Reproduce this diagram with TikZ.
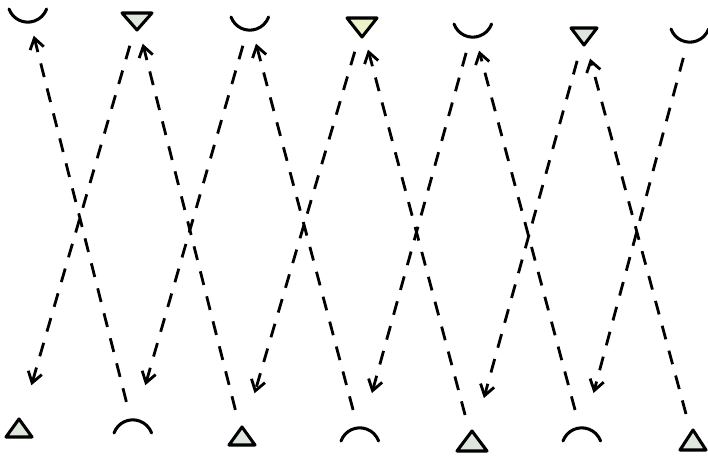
\documentclass[tikz,border=0pt]{standalone}
\usepackage{tikz}
\usetikzlibrary{arrows.meta}

\definecolor{riemp}{RGB}{222,230,222}
\definecolor{giallino}{RGB}{238,240,200}

\tikzset{
  simbolo/.style={line width=2.6pt, line cap=round, line join=round},
  triang/.style={simbolo, fill=riemp},
  freccia/.style={line width=2.4pt, dash pattern=on 12pt off 10pt,
    -{Straight Barb[length=9pt,width=12pt]}},
  giu/.style={freccia, shorten <=22pt, shorten >=38pt},
  su/.style={freccia, shorten <=23pt, shorten >=20pt},
}

\begin{document}
\begin{tikzpicture}[x=0.03cm, y=0.03cm]
  \useasboundingbox (0,-457) rectangle (708,0);

  % Simboli in alto
  \coordinate (t1) at (28,-13);
  \coordinate (t2) at (137,-21);
  \coordinate (t3) at (250,-21);
  \coordinate (t4) at (362,-27);
  \coordinate (t5) at (473,-28);
  \coordinate (t6) at (584,-36);
  \coordinate (t7) at (690,-33);

  % Simboli in basso
  \coordinate (b1) at (19,-428);
  \coordinate (b2) at (133,-428);
  \coordinate (b3) at (242,-436);
  \coordinate (b4) at (360,-436);
  \coordinate (b5) at (472,-441);
  \coordinate (b6) at (582,-436);
  \coordinate (b7) at (693,-440);

  % Coppe e triangoli rovesciati
  \draw[simbolo] (t1) ++(-19,4) arc[start angle=200, end angle=340, radius=20];
  \draw[triang] (t2) ++(-15,8) -- ++(30,0) -- ++(-15,-17) -- cycle;
  \draw[simbolo] (t3) ++(-19,4) arc[start angle=200, end angle=340, radius=20];
  \draw[triang, fill=giallino] (t4) ++(-15,9) -- ++(30,0) -- ++(-15,-19) -- cycle;
  \draw[simbolo] (t5) ++(-19,4) arc[start angle=200, end angle=340, radius=20];
  \draw[triang] (t6) ++(-13,8) -- ++(26,0) -- ++(-13,-17) -- cycle;
  \draw[simbolo] (t7) ++(-19,4) arc[start angle=200, end angle=340, radius=20];

  % Triangoli e archi sotto
  \draw[triang] (b1) ++(-13,-9) -- ++(26,0) -- ++(-13,18) -- cycle;
  \draw[simbolo] (b2) ++(-19,-5) arc[start angle=160, end angle=20, radius=20];
  \draw[triang] (b3) ++(-13,-9) -- ++(26,0) -- ++(-13,18) -- cycle;
  \draw[simbolo] (b4) ++(-19,-5) arc[start angle=160, end angle=20, radius=20];
  \draw[triang] (b5) ++(-15,-10) -- ++(30,0) -- ++(-15,20) -- cycle;
  \draw[simbolo] (b6) ++(-19,-5) arc[start angle=160, end angle=20, radius=20];
  \draw[triang] (b7) ++(-13,-10) -- ++(26,0) -- ++(-13,20) -- cycle;

  % Frecce tratteggiate
  \draw[giu] (t2) -- (b1);
  \draw[su]  (b2) -- (t1);
  \draw[su]  (b3) -- (t2);
  \draw[giu] (t3) -- (b2);
  \draw[su]  (b4) -- (t3);
  \draw[giu] (t4) -- (b3);
  \draw[su]  (b5) -- (t4);
  \draw[giu] (t5) -- (b4);
  \draw[su]  (b6) -- (t5);
  \draw[giu] (t6) -- (b5);
  \draw[su]  (b7) -- (t6);
  \draw[giu] (t7) -- (b6);
\end{tikzpicture}
\end{document}
